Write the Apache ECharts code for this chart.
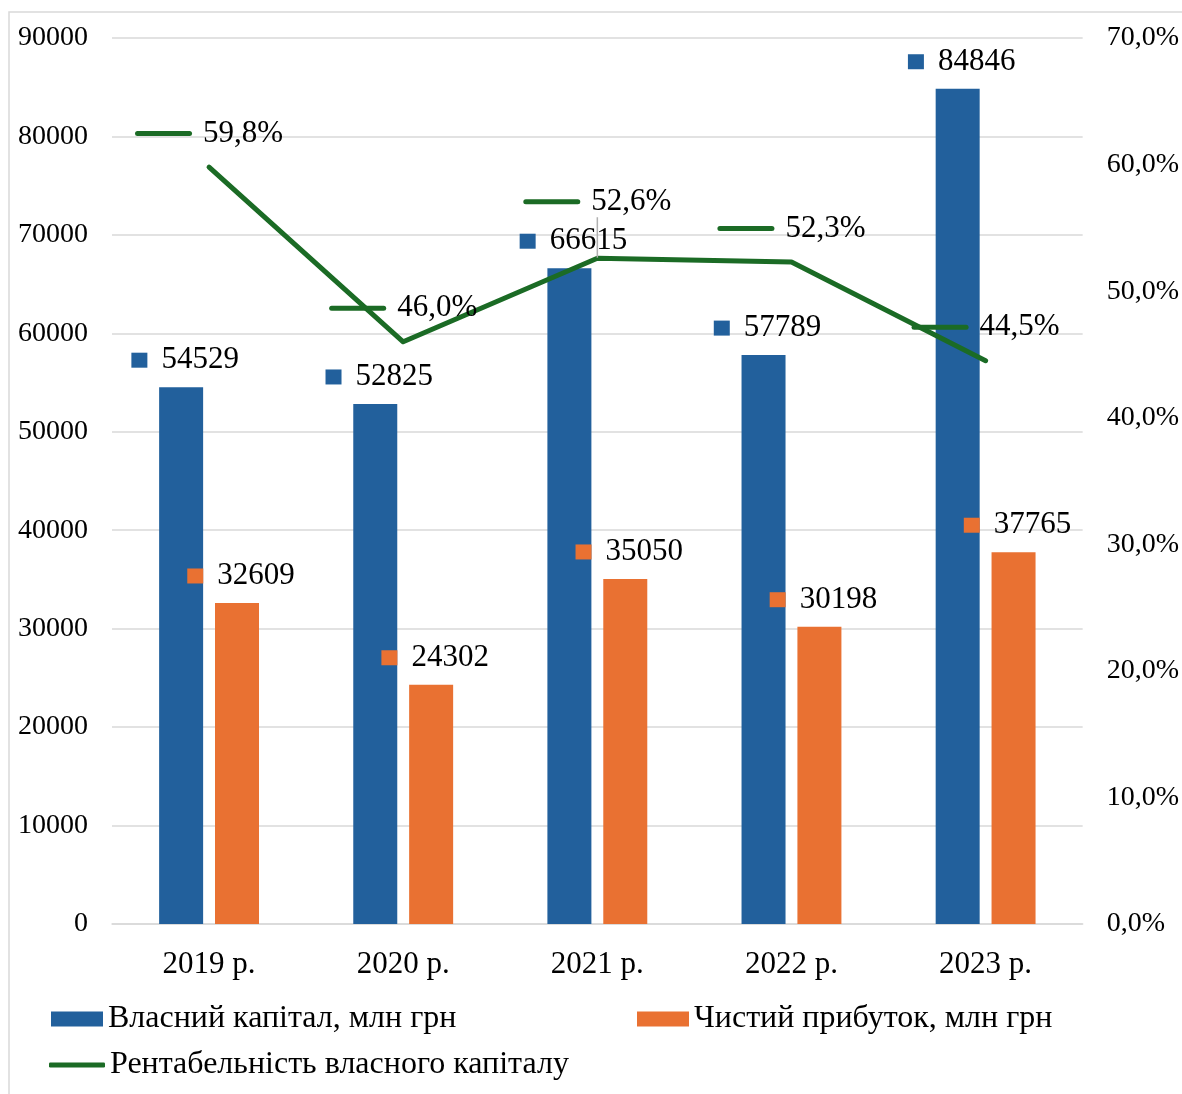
<!DOCTYPE html>
<html>
<head>
<meta charset="utf-8">
<script src="https://cdn.jsdelivr.net/npm/echarts@6/dist/echarts.min.js"></script>
<style>
  html, body { margin: 0; padding: 0; background: #ffffff; }
  #chart { width: 1182px; height: 1094px; }
</style>
</head>
<body>
<div id="chart"></div>
<script>
// Річні показники
const years = ['2019 р.', '2020 р.', '2021 р.', '2022 р.', '2023 р.'];
const equity = [54529, 52825, 66615, 57789, 84846];        // Власний капітал, млн грн
const netProfit = [32609, 24302, 35050, 30198, 37765];     // Чистий прибуток, млн грн
const roe = [59.8, 46.0, 52.6, 52.3, 44.5];                // Рентабельність власного капіталу, %

const seriesNames = ['Власний капітал, млн грн', 'Чистий прибуток, млн грн', 'Рентабельність власного капіталу'];

const FONT = "'Liberation Serif', 'Times New Roman', serif";
const BLUE = '#22609c';
const ORANGE = '#e97132';
const GREEN = '#1b6b25';
const GRID = '#d9d9d9';

const pct = v => v.toFixed(1).replace('.', ',') + '%';

function barLabel(color) {
  return {
    show: true,
    position: 'top',
    distance: 9,
    offset: [4, 0],
    formatter: p => '{k|}{v|' + p.value + '}',
    rich: {
      k: { width: 16, height: 15, backgroundColor: color },
      v: { fontFamily: FONT, fontSize: 31, lineHeight: 36, color: '#000', padding: [0, 0, 0, 14] }
    }
  };
}

// підпис 2021 р. винесено вище, з виносною лінією
const roeData = roe.map((v, i) => (i === 2 ? { value: v, labelLine: { show: true } } : v));

const legendText = { fontFamily: FONT, fontSize: 32, lineHeight: 36, color: '#000' };

const chart = echarts.init(document.getElementById('chart'), null, { renderer: 'canvas' });

chart.setOption({
  backgroundColor: '#ffffff',
  animation: false,
  textStyle: { fontFamily: FONT, color: '#000' },
  graphic: [{
    type: 'rect',
    silent: true,
    z: -10,
    shape: { x: 9, y: 12, width: 1400, height: 1400 },
    style: { fill: 'none', stroke: GRID, lineWidth: 1.5 }
  }],
  grid: { left: 112, right: 99, top: 38, bottom: 170 },
  legend: [
    {
      data: [seriesNames[0]], left: 51, top: 1001, padding: 0,
      itemWidth: 52, itemHeight: 15, icon: 'rect', textStyle: legendText
    },
    {
      data: [seriesNames[1]], left: 637, top: 1001, padding: 0,
      itemWidth: 52, itemHeight: 15, icon: 'rect', textStyle: legendText
    },
    {
      data: [seriesNames[2]], left: 49, top: 1047, padding: 0,
      itemWidth: 56, itemHeight: 5, icon: 'roundRect', textStyle: legendText
    }
  ],
  xAxis: {
    type: 'category',
    data: years,
    axisLine: { lineStyle: { color: GRID, width: 1.5 } },
    axisTick: { show: false },
    axisLabel: { fontFamily: FONT, fontSize: 31, color: '#000', margin: 25 }
  },
  yAxis: [
    {
      type: 'value', min: 0, max: 90000, interval: 10000,
      axisLine: { show: false }, axisTick: { show: false },
      splitLine: { lineStyle: { color: GRID, width: 1.5 } },
      axisLabel: {
        fontFamily: FONT, fontSize: 28, color: '#000', margin: 24,
        padding: [4, 0, 0, 0], formatter: v => String(v)
      }
    },
    {
      type: 'value', min: 0, max: 70, interval: 10,
      axisLine: { show: false }, axisTick: { show: false },
      splitLine: { show: false },
      axisLabel: {
        fontFamily: FONT, fontSize: 28, color: '#000', margin: 24,
        padding: [4, 0, 0, 0], formatter: pct
      }
    }
  ],
  series: [
    {
      name: seriesNames[0], type: 'bar', yAxisIndex: 0,
      data: equity, barWidth: 44, barGap: '27%',
      itemStyle: { color: BLUE },
      label: barLabel(BLUE)
    },
    {
      name: seriesNames[1], type: 'bar', yAxisIndex: 0,
      data: netProfit, barWidth: 44,
      itemStyle: { color: ORANGE },
      label: barLabel(ORANGE)
    },
    {
      name: seriesNames[2], type: 'line', yAxisIndex: 1,
      data: roeData,
      symbol: 'circle', symbolSize: 1,
      itemStyle: { color: GREEN },
      lineStyle: { color: GREEN, width: 5, cap: 'round', join: 'round' },
      label: {
        show: true,
        position: 'top',
        distance: 15,
        offset: [2, 0],
        formatter: p => '{k|}{v|' + pct(p.value) + '}',
        rich: {
          k: { width: 57, height: 5, borderRadius: 2.5, backgroundColor: GREEN },
          v: { fontFamily: FONT, fontSize: 31, lineHeight: 36, color: '#000', padding: [0, 0, 0, 11] }
        }
      },
      labelLayout: p => (p.dataIndex === 2 ? { dy: -23 } : {}),
      labelLine: { show: false, lineStyle: { color: '#b0b0b0', width: 1.5 } },
      z: 3
    }
  ]
});
</script>
</body>
</html>
